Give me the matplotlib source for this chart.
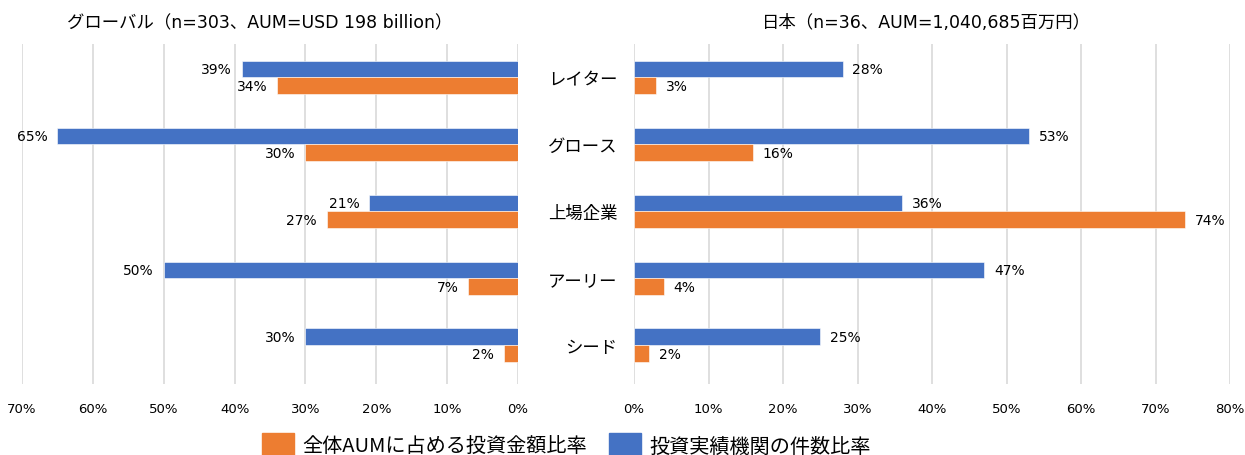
import matplotlib
matplotlib.use("Agg")
import matplotlib.pyplot as plt
import numpy as np
from matplotlib.patches import Patch

plt.rcParams['font.family'] = ['DejaVu Sans', 'Noto Sans CJK JP']

categories = ["レイター", "グロース", "上場企業", "アーリー", "シード"]
global_count = [39, 65, 21, 50, 30]
global_aum = [34, 30, 27, 7, 2]
japan_count = [28, 53, 36, 47, 25]
japan_aum = [3, 16, 74, 4, 2]
left_ticks = [70, 60, 50, 40, 30, 20, 10, 0]
right_ticks = [0, 10, 20, 30, 40, 50, 60, 70, 80]
title_left = "グローバル（n=303、AUM=USD 198 billion）"
title_right = "日本（n=36、AUM=1,040,685百万円）"
legend_labels = ["全体AUMに占める投資金額比率", "投資実績機関の件数比率"]

BLUE = "#4472C4"
ORANGE = "#ED7D31"
GRID = "#D9D9D9"
CJK = ['Noto Sans CJK JP', 'DejaVu Sans']

fig = plt.figure(figsize=(12.45, 4.56), dpi=100)
axL = fig.add_axes([22/1245, 1-385/456, (518-22)/1245, (385-45)/456])
axR = fig.add_axes([634/1245, 1-385/456, (1230-634)/1245, (385-45)/456])

y = np.arange(len(categories))
h = 0.25

def style(ax):
    for s in ax.spines.values():
        s.set_visible(False)
    ax.set_axisbelow(True)
    ax.grid(axis='x', color=GRID, linewidth=1.2)
    ax.tick_params(axis='x', length=0, pad=13, labelsize=9.5)
    ax.tick_params(axis='y', length=0)
    ax.set_ylim(4.58, -0.5)

# Left panel
axL.barh(y - h/2, global_count, height=h, color=BLUE, edgecolor='white', linewidth=0.4)
axL.barh(y + h/2, global_aum, height=h, color=ORANGE, edgecolor='white', linewidth=0.4)
axL.set_xlim(70, 0)
axL.set_xticks(left_ticks)
axL.set_xticklabels([f"{t}%" for t in left_ticks])
axL.set_yticks([])
style(axL)
for i in range(len(categories)):
    axL.annotate(f"{global_count[i]}%", (global_count[i], y[i] - h/2), xytext=(-7, 0),
                 textcoords='offset points', ha='right', va='center', fontsize=10)
    axL.annotate(f"{global_aum[i]}%", (global_aum[i], y[i] + h/2), xytext=(-7, 0),
                 textcoords='offset points', ha='right', va='center', fontsize=10)
axL.set_title(title_left, fontsize=12.5, pad=12, x=0.48)

# Right panel
axR.barh(y - h/2, japan_count, height=h, color=BLUE, edgecolor='white', linewidth=0.4)
axR.barh(y + h/2, japan_aum, height=h, color=ORANGE, edgecolor='white', linewidth=0.4)
axR.set_xlim(0, 80)
axR.set_xticks(right_ticks)
axR.set_xticklabels([f"{t}%" for t in right_ticks])
axR.set_yticks(y)
axR.set_yticklabels(categories, fontsize=12.5, family=CJK)
axR.tick_params(axis='y', pad=12)
style(axR)
for i in range(len(categories)):
    axR.annotate(f"{japan_count[i]}%", (japan_count[i], y[i] - h/2), xytext=(7, 0),
                 textcoords='offset points', ha='left', va='center', fontsize=10)
    axR.annotate(f"{japan_aum[i]}%", (japan_aum[i], y[i] + h/2), xytext=(7, 0),
                 textcoords='offset points', ha='left', va='center', fontsize=10)
axR.set_title(title_right, fontsize=12.5, pad=12, x=0.49)

handles = [Patch(color=ORANGE), Patch(color=BLUE)]
fig.legend(handles, legend_labels, loc='center', bbox_to_anchor=(0.455, 0.022),
           ncol=2, frameon=False, prop={'family': CJK, 'size': 14.5},
           handlelength=1.6, handleheight=1.4, columnspacing=1.1, handletextpad=0.4)

fig.savefig("out.png", dpi=100)
